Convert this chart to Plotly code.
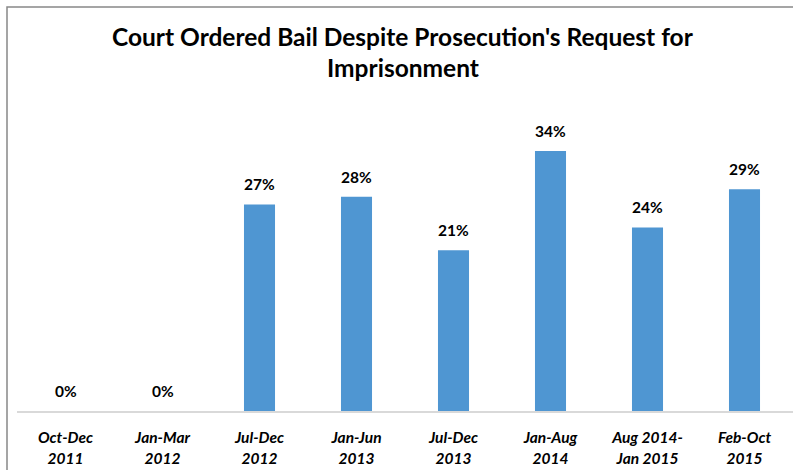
import plotly.graph_objects as go

categories = ["Oct-Dec<br>2011", "Jan-Mar<br>2012", "Jul-Dec<br>2012", "Jan-Jun<br>2013",
              "Jul-Dec<br>2013", "Jan-Aug<br>2014", "Aug 2014-<br>Jan 2015", "Feb-Oct<br>2015"]
values = [0.00, 0.00, 0.27, 0.28, 0.21, 0.34, 0.24, 0.29]
labels = ["0%", "0%", "27%", "28%", "21%", "34%", "24%", "29%"]
title_lines = ["Court Ordered Bail Despite Prosecution's Request for", "Imprisonment"]

W, H = 793, 470
ml, mr, mt, mb = 17, 0, 105, 59
pw, ph = W - ml - mr, H - mt - mb

fig = go.Figure(go.Bar(
    x=categories, y=values,
    marker=dict(color="#4F96D2", line=dict(width=0)),
    width=0.32, cliponaxis=False, hoverinfo="skip",
))

for c, v, t in zip(categories, values, labels):
    fig.add_annotation(x=c, y=v, xref="x", yref="y", text="<b>" + t + "</b>",
                       showarrow=False, yanchor="bottom", yshift=9,
                       font=dict(family="Lato", size=15.5, color="#000000"))

# title lines as paper annotations
title_cx = (403 - ml) / pw
for i, line in enumerate(title_lines):
    fig.add_annotation(x=title_cx, y=1 + (mt - (37 + 30 * i)) / ph, xref="paper", yref="paper",
                       text="<b>" + line + "</b>", showarrow=False,
                       xanchor="center", yanchor="middle",
                       font=dict(family="Lato", size=24.5, color="#000000"))

fx = (7 - ml) / pw
fy_top = 1 + (mt - 7) / ph
fy_bot = -(mb + 5) / ph
fig.add_shape(type="path", xref="paper", yref="paper",
              path=f"M {fx} {fy_bot} L {fx} {fy_top} L 1.05 {fy_top}",
              line=dict(color="#888888", width=1.5))

fig.update_layout(
    width=W, height=H,
    margin=dict(l=ml, r=mr, t=mt, b=mb, autoexpand=False),
    paper_bgcolor="white", plot_bgcolor="white",
    xaxis=dict(showline=True, linecolor="#D9D9D9", linewidth=1.5, ticks="",
               ticklabelstandoff=12,
               tickfont=dict(family="Lato", size=15.5, color="#000000", weight="bold", style="italic"),
               showgrid=False),
    yaxis=dict(range=[0, 0.40], visible=False, showgrid=False),
    showlegend=False,
    font=dict(family="Lato"),
)

fig.write_html("out.html", config={"displayModeBar": False},
               post_script="document.body.style.margin='0';document.body.style.overflow='hidden';")
